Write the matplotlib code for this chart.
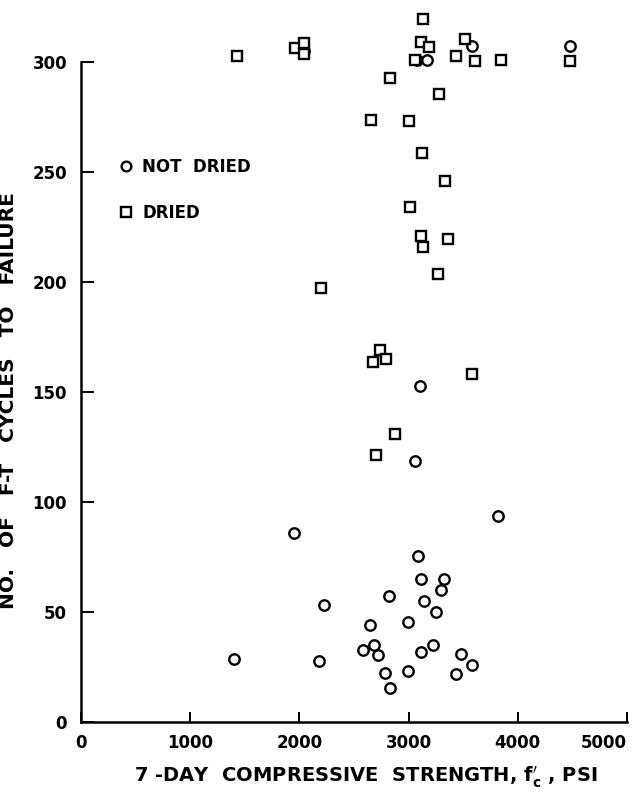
import matplotlib
matplotlib.use("Agg")
import matplotlib.pyplot as plt
from matplotlib.lines import Line2D

# ---- data ----
not_dried_strength = [2045, 3075, 3170, 3585, 4478,
                      3107, 3057, 3817, 1950,
                      3090, 3117, 3323, 3300, 2823, 2223, 3140, 3247, 2647, 2997,
                      2683, 2583, 2717, 3113, 3223, 3483, 3580, 1403, 2183, 2780,
                      2990, 3430, 2833]
not_dried_cycles = [305, 301, 301, 307.5, 307.5,
                    152.7, 118.6, 93.8, 85.8,
                    75.3, 65.2, 65.0, 60.0, 57.3, 53.3, 55.0, 49.8, 44.2, 45.5,
                    34.8, 32.9, 30.5, 32.0, 35.2, 30.8, 25.9, 28.6, 27.9, 22.4,
                    23.2, 21.7, 15.5]

dried_strength = [1428, 1957, 2040, 2045, 3134, 3110, 3191, 3060, 3435, 3512,
                  3609, 3846, 4478, 2833, 3274, 2659, 3007, 3127, 3334, 3017,
                  3110, 3358, 3134, 2197, 3268, 2742, 2793, 2672, 3585, 2876,
                  2702]
dried_cycles = [302.6, 306.4, 308.6, 303.5, 319.7, 308.9, 306.7, 301, 302.6, 310.6,
                300.6, 301, 300.3, 292.7, 285.5, 273.8, 273.3, 258.6, 245.8, 234.1,
                220.8, 219.5, 216, 197.1, 203.8, 169.1, 164.8, 163.6, 158.3, 131.1,
                121.4]

x_ticks = [0, 1000, 2000, 3000, 4000, 5000]
y_ticks = [0, 50, 100, 150, 200, 250, 300]

x_label = "7 -DAY  COMPRESSIVE  STRENGTH, $\\mathbf{f_c^{\\prime}}$ , PSI"
y_label = "NO.   OF   F-T   CYCLES   TO   FAILURE"
series_labels = ["NOT  DRIED", "DRIED"]

# ---- figure ----
W, H = 632, 793
fig = plt.figure(figsize=(W / 100, H / 100), dpi=100)
ax = fig.add_axes([81 / W, (H - 722) / H, 546 / W, (722 - 7) / H])

mk = dict(linestyle="none", markerfacecolor="white", markeredgecolor="black",
          markeredgewidth=1.7, color="black")
ax.plot(not_dried_strength, not_dried_cycles, marker="o", markersize=7.5, **mk)
ax.plot(dried_strength, dried_cycles, marker="s", markersize=7.0, **mk)

ax.set_xlim(0, 5000)
ax.set_ylim(0, 325)

for s in ["top", "right"]:
    ax.spines[s].set_visible(False)
ax.spines["left"].set_bounds(0, 300)
ax.spines["left"].set_linewidth(1.8)
ax.spines["bottom"].set_linewidth(1.8)

ax.set_xticks(x_ticks)
ax.set_yticks(y_ticks)
ax.set_xticklabels([str(t) for t in x_ticks])
ax.set_yticklabels([str(t) for t in y_ticks])
ax.tick_params(axis="both", direction="in", width=1.4, colors="black")
ax.tick_params(axis="y", length=9, pad=10, labelsize=12)
ax.tick_params(axis="x", length=7, pad=9, labelsize=12)
for lab in ax.get_xticklabels() + ax.get_yticklabels():
    lab.set_fontweight("bold")
ax.get_xticklabels()[-1].set_horizontalalignment("right")

ax.set_xlabel(x_label, fontsize=14, fontweight="bold")
ax.xaxis.set_label_coords((366 - 81) / 546, -(764 - 722) / 715)
ax.set_ylabel(y_label, fontsize=14.5, fontweight="bold")
ax.yaxis.set_label_coords((18 - 81) / 546, (722 - 401) / 715)

handles = [Line2D([], [], marker="o", markersize=7, **mk),
           Line2D([], [], marker="s", markersize=6.5, **mk)]
leg = ax.legend(handles, series_labels, loc="upper left",
                bbox_to_anchor=(0.045, 0.81), frameon=False,
                handlelength=0.6, handletextpad=0.7, labelspacing=1.7,
                prop={"size": 12, "weight": "bold"})

fig.savefig("out.png", dpi=100)
